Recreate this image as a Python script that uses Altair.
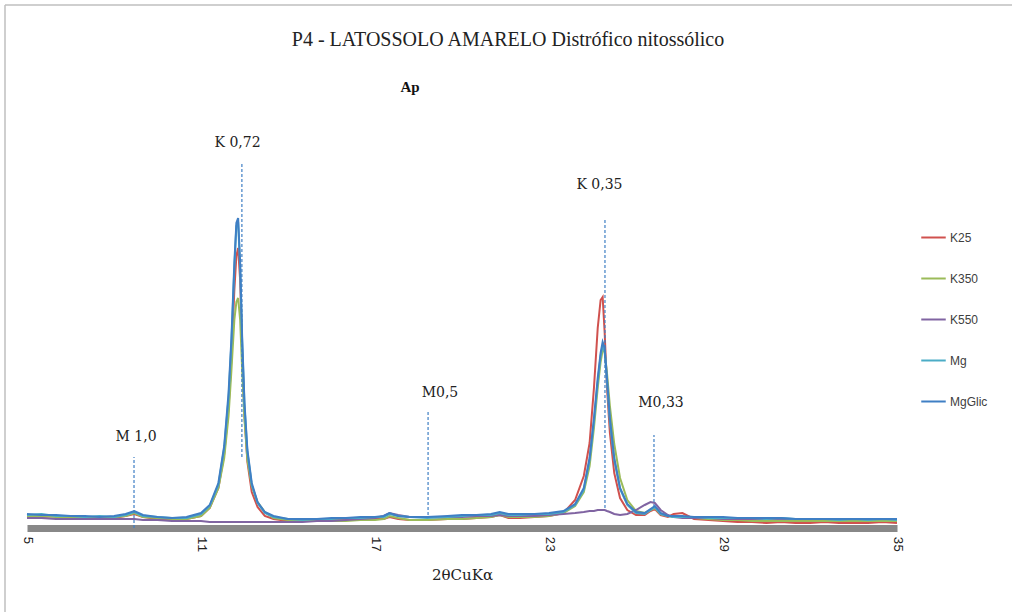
import altair as alt
import pandas as pd

# ---- data ----
x_grid = [5.0, 5.5, 6.0, 6.5, 7.0, 7.5, 8.0, 8.4, 8.7, 9.0, 9.5, 10.0, 10.5, 11.0, 11.3, 11.6, 11.8, 11.95,
          12.05, 12.15, 12.22, 12.28, 12.35, 12.42, 12.5, 12.6, 12.75, 12.95, 13.2, 13.5, 14.0, 14.5, 15.0, 15.5,
          16.0, 16.5, 17.0, 17.3, 17.5, 17.8, 18.2, 18.8, 19.5, 20.0, 20.5, 21.0, 21.3, 21.6, 22.0, 22.5, 23.0,
          23.5, 23.9, 24.2, 24.4, 24.55, 24.68, 24.78, 24.85, 24.92, 25.0, 25.1, 25.25, 25.45, 25.7, 26.0, 26.3,
          26.5, 26.65, 26.85, 27.1, 27.3, 27.6, 28.0, 28.5, 29.0, 29.5, 30.0, 30.5, 31.0, 31.5, 32.0, 32.5, 33.0,
          33.5, 34.0, 34.5, 35.0]

mgglic = [14, 13, 13, 12, 12, 11, 12, 14, 17, 13, 11, 10, 11, 15, 23, 45, 82, 135,
          190, 265, 305, 310, 265, 190, 125, 78, 45, 26, 16, 12, 9, 9, 9, 10,
          10, 11, 11, 12, 15, 12, 11, 11, 12, 13, 13, 14, 16, 14, 14, 14, 15,
          17, 24, 40, 70, 110, 150, 175, 186, 180, 150, 110, 70, 40, 24, 16, 15,
          19, 22, 15, 12, 12, 12, 11, 11, 11, 10, 10, 10, 10, 9, 9, 9, 9,
          9, 9, 9, 9]

mg = [13, 14, 12, 12, 11, 12, 11, 13, 16, 12, 11, 10, 10, 14, 22, 43, 80, 130,
      186, 260, 302, 306, 260, 186, 122, 76, 43, 25, 15, 11, 9, 8, 9, 9,
      10, 10, 11, 11, 14, 12, 11, 10, 11, 12, 13, 13, 15, 13, 13, 14, 14,
      16, 23, 38, 68, 106, 146, 172, 183, 176, 146, 106, 68, 39, 23, 15, 14,
      18, 21, 14, 12, 11, 11, 11, 10, 10, 10, 10, 9, 10, 9, 9, 9, 8,
      9, 8, 9, 8]

k25 = [12, 11, 12, 10, 11, 10, 10, 12, 14, 11, 9, 8, 9, 12, 20, 40, 74, 120,
       170, 238, 272, 280, 248, 175, 112, 66, 36, 21, 12, 9, 7, 7, 7, 8,
       8, 8, 9, 9, 11, 9, 8, 8, 9, 9, 10, 11, 13, 10, 10, 11, 12,
       15, 28, 52, 85, 140, 200, 228, 231, 195, 140, 95, 55, 30, 18, 13, 13,
       17, 19, 13, 11, 14, 15, 9, 8, 7, 6, 6, 5, 6, 5, 5, 6, 5,
       5, 5, 6, 5]

k350 = [12, 12, 11, 11, 11, 10, 11, 12, 15, 11, 10, 9, 9, 12, 20, 40, 70, 112,
        158, 208, 226, 230, 208, 158, 108, 68, 42, 26, 16, 10, 8, 7, 7, 7,
        7, 8, 8, 9, 12, 10, 8, 8, 9, 9, 10, 11, 13, 11, 11, 11, 12,
        15, 22, 36, 62, 100, 140, 166, 178, 176, 155, 122, 84, 50, 28, 17, 15,
        18, 20, 14, 12, 11, 11, 10, 9, 8, 8, 7, 7, 7, 7, 7, 7, 7,
        7, 7, 7, 7]

k550 = [10, 10, 9, 9, 9, 9, 9, 9, 9, 8, 8, 7, 7, 7, 6, 6, 6, 6,
        6, 6, 6, 6, 6, 6, 6, 6, 6, 6, 6, 6, 6, 6, 7, 7,
        8, 9, 10, 12, 15, 13, 11, 11, 11, 11, 12, 12, 13, 12, 12, 12, 13,
        14, 15, 16, 17, 17, 18, 18, 18, 18, 17, 16, 14, 13, 14, 18, 23,
        26, 25, 18, 13, 11, 10, 10, 10, 9, 9, 9, 9, 9, 9, 9, 9, 9,
        9, 9, 9, 9]

series_names = ["K25", "K350", "K550", "Mg", "MgGlic"]
series_values = [k25, k350, k550, mg, mgglic]
series_colors = ["#D0514E", "#9BBB59", "#8064A2", "#4BACC6", "#3F7FC4"]

ann_labels = ["M 1,0", "K 0,72", "M0,5", "K 0,35", "M0,33"]
ann_line_x = [8.69, 12.41, 18.83, 24.93, 26.62]
ann_line_bottom = [0, 71, 13, 20, 21]
ann_line_top = [71, 365, 116, 308, 93]
ann_text_x = [8.76, 12.26, 19.24, 24.74, 26.86]
ann_text_y = [91, 385, 135, 343, 125]

tick_values = [5, 11, 17, 23, 29, 35]

# ---- tables ----
rows = []
for name, vals in zip(series_names, series_values):
    assert len(vals) == len(x_grid), (name, len(vals))
    for xv, yv in zip(x_grid, vals):
        rows.append({"theta": xv, "intensity": yv, "series": name})
df = pd.DataFrame(rows)

ann = pd.DataFrame({
    "label": ann_labels,
    "lx": ann_line_x,
    "y0": ann_line_bottom,
    "y1": ann_line_top,
    "tx": ann_text_x,
    "ty": ann_text_y,
})

W, H = 870, 400
xscale = alt.Scale(domain=[5, 35], nice=False, zero=False)
yscale = alt.Scale(domain=[0, 400], nice=False, zero=False)

one = pd.DataFrame({"a": [0]})
frame_top = alt.Chart(one).mark_rule(color="#BFBFBF", strokeWidth=1.5).encode(
    x=alt.value(-22), x2=alt.value(1000), y=alt.value(-123))
frame_left = alt.Chart(one).mark_rule(color="#BFBFBF", strokeWidth=1.5).encode(
    x=alt.value(-22), y=alt.value(-123), y2=alt.value(500))

lines = alt.Chart(df).mark_line(strokeWidth=2, interpolate="linear").encode(
    x=alt.X("theta:Q", scale=xscale,
            axis=alt.Axis(values=tick_values, title="2θCuKα", grid=False, ticks=False,
                          domainColor="#888888", domainWidth=7, labelAngle=90,
                          labelFont="Liberation Mono", labelFontSize=13, labelColor="#222222",
                          labelPadding=8, labelAlign="left", labelBaseline="middle",
                          titleFont="DejaVu Serif", titleFontSize=15, titleFontWeight="normal",
                          titleColor="#222222", titlePadding=16)),
    y=alt.Y("intensity:Q", scale=yscale, axis=None),
    color=alt.Color("series:N",
                    scale=alt.Scale(domain=series_names, range=series_colors),
                    legend=alt.Legend(title=None, orient="none", legendX=893, legendY=96,
                                      symbolType="stroke", symbolSize=600, symbolStrokeWidth=2,
                                      labelFont="Liberation Sans", labelFontSize=12,
                                      labelColor="#404040", rowPadding=21, labelOffset=3)),
    order=alt.Order("theta:Q"),
)

rules = alt.Chart(ann).mark_rule(color="#3F7FC4", strokeDash=[3, 2], strokeWidth=1.2).encode(
    x=alt.X("lx:Q", scale=xscale), y=alt.Y("y0:Q", scale=yscale), y2="y1:Q"
)

labels = alt.Chart(ann).mark_text(font="DejaVu Serif", fontSize=14, color="#222222").encode(
    x=alt.X("tx:Q", scale=xscale), y=alt.Y("ty:Q", scale=yscale), text="label:N"
)

title = alt.Chart(pd.DataFrame({"t": ["P4 - LATOSSOLO AMARELO Distrófico nitossólico"]})).mark_text(
    font="Liberation Serif", fontSize=20, color="#222222"
).encode(x=alt.value(481), y=alt.value(-88), text="t:N")

sub = alt.Chart(pd.DataFrame({"t": ["Ap"]})).mark_text(
    font="Liberation Serif", fontSize=15, fontWeight="bold", color="#111111"
).encode(x=alt.value(383), y=alt.value(-41), text="t:N")

chart = alt.layer(frame_top, frame_left, lines, rules, labels, title, sub).properties(
    width=W, height=H,
    autosize=alt.AutoSizeParams(type="none"),
    padding={"left": 27, "top": 128, "right": 115, "bottom": 84},
    background="white",
).configure_view(stroke=None)

chart.save("out.html", embed_options={"renderer": "svg", "actions": False})
